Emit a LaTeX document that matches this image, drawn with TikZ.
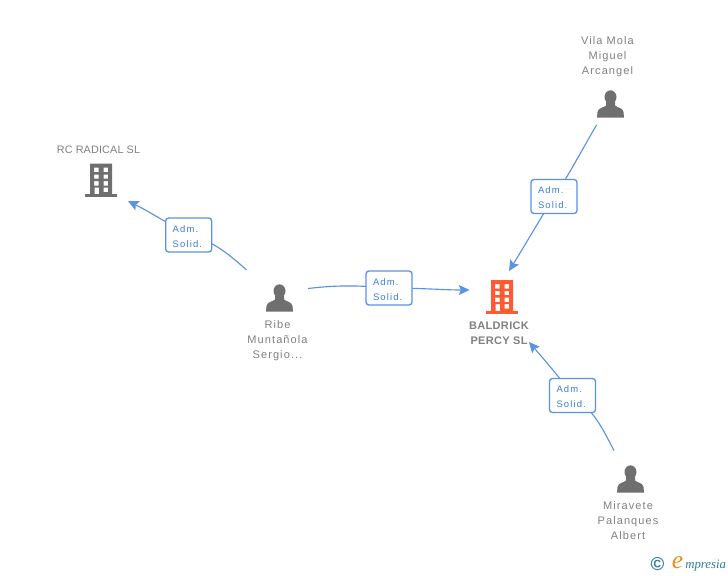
\documentclass[tikz,border=0pt]{standalone}
\usepackage{fontspec}
\setmainfont{Liberation Sans}
\newfontfamily\logofont{Liberation Serif}
\usetikzlibrary{arrows.meta}
\definecolor{linkblue}{HTML}{5A92E4}
\definecolor{labelblue}{HTML}{3B7DDD}
\definecolor{icongrey}{HTML}{6F6F6F}
\definecolor{textgrey}{HTML}{808080}
\definecolor{brick}{HTML}{FF5A32}
\definecolor{logoteal}{HTML}{2F7F9F}
\definecolor{logoorange}{HTML}{F08A1D}
\tikzset{
  link/.style={draw=linkblue,line width=0.85pt},
  linkarrow/.style={link,-{Stealth[length=8pt,width=7.5pt,inset=1.5pt]}},
  rolebox/.style={draw=linkblue,line width=1pt,rounded corners=2.2pt,fill=white,
    minimum width=34.5pt,minimum height=25.5pt,inner sep=0pt,text width=24pt,align=left,text=labelblue,
    font=\fontsize{7.1}{11.25}\selectfont\addfontfeature{LetterSpace=12}},
  who/.style={inner sep=0pt,align=center,text=textgrey,
    font=\fontsize{8.25}{11.25}\selectfont\addfontfeature{LetterSpace=10}},
  firm/.style={inner sep=0pt,align=center,text=textgrey,
    font=\fontsize{8.1}{11.25}\selectfont\addfontfeature{LetterSpace=1.5}},
  mainfirm/.style={inner sep=0pt,align=center,text=textgrey,
    font=\fontsize{8.25}{11.25}\selectfont\bfseries\addfontfeature{LetterSpace=3}},
}
\newcommand{\personicon}[2]{%
  \begin{scope}[shift={(#1,#2)}]
    \fill[icongrey] (0,0) ellipse[x radius=6,y radius=6.7] ;
    \fill[icongrey] (-4.5,4) -- (-4.5,8.5) .. controls (-6,10.5) and (-12.5,10.5) .. (-13,15)
       -- (-13.5,20.5) -- (13.5,20.5) -- (13,15) .. controls (12.5,10.5) and (6,10.5) .. (4.5,8.5) -- (4.5,4) -- cycle;
  \end{scope}}
\newcommand{\buildingicon}[3]{%
  \begin{scope}[shift={(#1,#2)}]
    \fill[#3,even odd rule] (0,0) rectangle (22,31.5)
      (4,4) rectangle (8.5,8.5) (13.5,4) rectangle (18,8.5)
      (4,11) rectangle (8.5,15) (13.5,11) rectangle (18,15)
      (4,17.5) rectangle (8.5,22) (13.5,17.5) rectangle (18,22)
      (4.5,24) rectangle (9,31.5) (13.5,24) rectangle (18,28.5);
    \fill[#3] (-5,30.5) rectangle (27,33.5);
  \end{scope}}
\newcommand{\rolelines}{\rule{0pt}{7.2pt}Adm.\\Solid.}
\begin{document}
\begin{tikzpicture}[x=0.75pt,y=-0.75pt]
\useasboundingbox (0,0) rectangle (728,575);

\personicon{610.5}{97}
\personicon{279.5}{291}
\personicon{630.5}{472}
\buildingicon{90}{163.5}{icongrey}
\buildingicon{491}{280}{brick}

\node[who] (vila) at (607.5,57) {Vila Mola\\Miguel\\Arcangel};
\node[who] (ribe) at (277.5,341) {Ribe\\Muntañola\\Sergio...};
\node[who] (mira) at (628,521) {Miravete\\Palanques\\Albert};
\node[firm] (rc) at (98.5,150) {RC RADICAL SL};
\node[mainfirm] (baldrick) at (499,333.5) {BALDRICK\\PERCY SL};

\coordinate (vilaS) at (596.5,125);
\coordinate (vilaT) at (509,271);
\coordinate (ribeS) at (308,288.5);
\coordinate (ribeT) at (469.5,290);
\coordinate (miraS) at (614,450.5);
\coordinate (miraT) at (529,342);
\coordinate (rcS) at (246.5,270);
\coordinate (rcT) at (128,201);

\coordinate (boxA) at (554,196.5);
\coordinate (boxB) at (389,288);
\coordinate (boxC) at (572.5,395.5);
\coordinate (boxD) at (188.7,235);

\draw[link] (vilaS) .. controls (578,157) and (566,180) .. (boxA);
\draw[linkarrow] (boxA) .. controls (545,211) and (525,245) .. (vilaT);
\draw[link] (ribeS) .. controls (330,286) and (350,284.5) .. (boxB);
\draw[linkarrow] (boxB) .. controls (420,288) and (445,290) .. (ribeT);
\draw[link] (miraS) .. controls (604,432) and (596,412) .. (boxC);
\draw[linkarrow] (boxC) .. controls (565,384) and (548,364) .. (miraT);
\draw[link] (rcS) .. controls (230,255) and (212,240) .. (boxD);
\draw[linkarrow] (boxD) .. controls (172,226) and (150,212) .. (rcT);

\node[rolebox] (roleA) at (boxA) {\rolelines};
\node[rolebox] (roleB) at (boxB) {\rolelines};
\node[rolebox] (roleC) at (boxC) {\rolelines};
\node[rolebox] (roleD) at (boxD) {\rolelines};

\node[inner sep=0pt,text=logoteal,font=\fontsize{14}{14}\selectfont\bfseries] (copy) at (657.5,564) {©};
\node[inner sep=0pt,text=logoorange,font=\logofont\itshape\fontsize{19}{19}\selectfont] (logoe) at (677.5,562.5) {e};
\node[inner sep=0pt,anchor=base west,text=logoteal,font=\logofont\itshape\fontsize{9.6}{10}\selectfont] (logorest) at (685,568) {mpresia};
\end{tikzpicture}
\end{document}
